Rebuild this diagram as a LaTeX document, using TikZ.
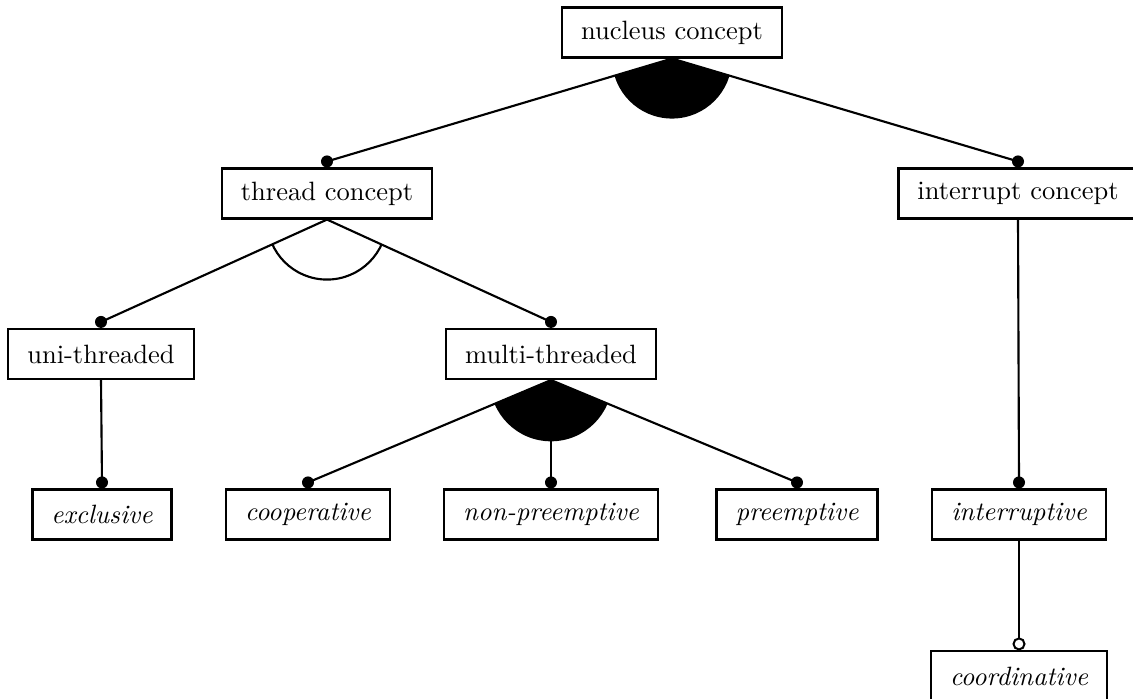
\documentclass[tikz,border=0pt]{standalone}
\usetikzlibrary{calc}
\begin{document}
\begin{tikzpicture}[x=0.4pt,y=-0.4pt,line width=0.85pt,
  box/.style={draw,line width=0.85pt,minimum height=20pt,inner xsep=7.6pt,fill=white,font=\fontsize{10.6}{12.7}\selectfont},
  feat/.style={box,font=\fontsize{10.6}{12.7}\selectfont\itshape},
  mand/.style={fill=black},
  opt/.style={draw=black,fill=white,line width=0.8pt}]
\useasboundingbox (0,0) rectangle (1133,699);
% nodes
\node[box] (nuc) at (672,32.5) {nucleus concept};
\node[box] (thr) at (327,193.5) {thread concept};
\node[box] (int) at (1018,193.5) {interrupt concept};
\node[box] (uni) at (101,354) {uni-threaded};
\node[box] (mul) at (551,354) {multi-threaded};
\node[feat] (exc) at (102,514.5) {exclusive};
\node[feat] (coo) at (308,514.5) {cooperative};
\node[feat] (non) at (551,514.5) {non-preemptive};
\node[feat] (pre) at (797,514.5) {preemptive};
\node[feat] (itr) at (1019,514.5) {interruptive};
\node[feat] (crd) at (1019,676) {coordinative};
% dot positions
\foreach \n in {thr,int,uni,mul,exc,coo,non,pre,itr,crd}{
  \coordinate (\n-d) at ([yshift=2.4pt]\n.north);
}
% group arcs
\begin{scope}
  \clip (nuc.south) -- (thr-d) -- (int-d) -- cycle;
  \fill (nuc.south) circle (24pt);
\end{scope}
\begin{scope}
  \clip (thr.south) -- (uni-d) -- (mul-d) -- cycle;
  \draw (thr.south) circle (24pt);
\end{scope}
\begin{scope}
  \clip (mul.south) -- (coo-d) -- (pre-d) -- cycle;
  \fill (mul.south) circle (24.5pt);
\end{scope}
% connectors
\draw (nuc.south) -- (thr-d);
\draw (nuc.south) -- (int-d);
\draw (thr.south) -- (uni-d);
\draw (thr.south) -- (mul-d);
\draw (uni.south) -- (exc-d);
\draw (mul.south) -- (coo-d);
\draw (mul.south) -- (non-d);
\draw (mul.south) -- (pre-d);
\draw (int.south) -- (itr-d);
\draw (itr.south) -- (crd-d);
% ends
\foreach \n in {thr,int,uni,mul,exc,coo,non,pre,itr}{
  \fill[mand] (\n-d) circle (2.4pt);
}
\draw[opt] (crd-d) circle (2.2pt);
\end{tikzpicture}
\end{document}
